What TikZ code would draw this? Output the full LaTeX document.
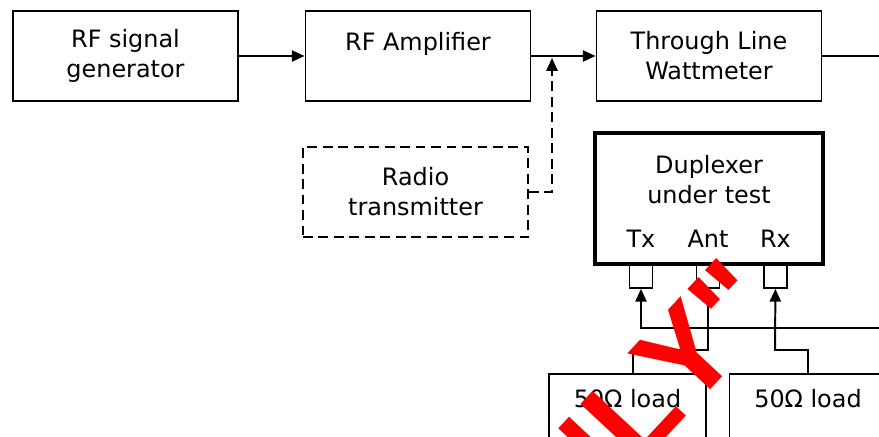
\documentclass[tikz,border=0pt]{standalone}
\usepackage{fontspec}
\setmainfont{DejaVu Sans}
\newfontfamily\wmfont{Liberation Sans}
\usepackage{tikz}
\usetikzlibrary{positioning, arrows.meta}
\tikzset{
  box/.style={draw, rectangle, line width=1.3pt, minimum width=5.625cm, minimum height=2.25cm, align=center, font=\fontsize{17}{21.3}\selectfont},
  dupbox/.style={draw, rectangle, line width=2.8pt, minimum width=5.7cm, minimum height=3.275cm, align=center, font=\fontsize{17}{21.3}\selectfont},
  port/.style={draw, rectangle, line width=1.3pt, minimum size=0.575cm, inner sep=0pt},
  portlabel/.style={inner sep=0pt, font=\fontsize{17}{21.3}\selectfont},
  loadbox/.style={draw, rectangle, line width=1.3pt, minimum width=3.925cm, minimum height=2.25cm, align=center, font=\fontsize{17}{21.3}\selectfont},
  link/.style={line width=1.4pt, -{Triangle[length=3.2mm, width=2.8mm]}},
  wmark/.style={inner sep=0pt, text=red, font=\wmfont\bfseries\fontsize{88}{88}\selectfont}
}
\begin{document}
\begin{tikzpicture}[x=0.025cm, y=-0.025cm]
  \useasboundingbox (0,0) rectangle (879,436);
  \clip (0,0) rectangle (879,436);

  % Top row
  \node[box] (gen) at (125.5,56) {RF signal\\generator};
  \node[box] (amp) at (418,56) {RF Amplifier\\\mbox{}};
  \node[box] (watt) at (709,56) {Through Line\\Wattmeter};

  % Optional transmitter (dashed)
  \node[box, dashed, dash pattern=on 7pt off 4pt] (radio) at (415.5,192) {Radio\\transmitter};

  % Duplexer and its ports
  \node[dupbox] (dup) at (709,198.5) {Duplexer\\under test\\[6pt]\mbox{}};
  \node[port, anchor=north] (tx) at (641,264) {};
  \node[port, anchor=north] (ant) at (708,264) {};
  \node[port, anchor=north] (rx) at (775.5,264) {};
  \node[portlabel, above=0.4cm of tx] {Tx};
  \node[portlabel, above=0.4cm of ant] {Ant};
  \node[portlabel, above=0.4cm of rx] {Rx};

  % Loads
  \node[loadbox, anchor=north] (loadA) at (627.5,373) {50Ω load\\[8pt]\mbox{}};
  \node[loadbox, anchor=north] (loadB) at (808,373) {50Ω load\\[8pt]\mbox{}};

  % Free ends at the right border
  \coordinate (edgeA) at (879,56);
  \coordinate (edgeB) at (879,328);
  \coordinate (join) at (552,58);

  % Connections
  \draw[link] (gen) -- (amp);
  \draw[link] (amp) -- (watt);
  \draw[link, dashed, dash pattern=on 7pt off 4pt] (radio.east) -| (join);
  \draw[line width=1.4pt] (watt) -- (edgeA);
  \draw[link] (edgeB) -| (tx);
  \draw[link] ([xshift=0.1375cm]loadA.north) |- ++(75,-23) -- (ant);
  \draw[link] (loadB.north) |- ++(-33,-23) -- (rx);

  % Watermark
  \node[wmark, rotate=47, anchor=base west] (stamp) at (688.4,413.7) {\llap{ONL}Y"};
\end{tikzpicture}
\end{document}
